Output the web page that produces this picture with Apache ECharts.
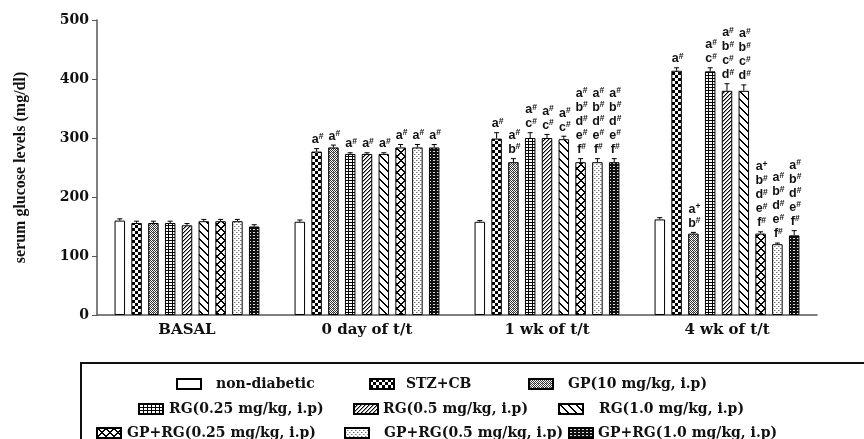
<!DOCTYPE html>
<html><head><meta charset="utf-8">
<script src="https://cdn.jsdelivr.net/npm/echarts@6/dist/echarts.min.js"></script>
<style>html,body{margin:0;padding:0;background:#fff}#c{width:864px;height:439px}</style>
</head><body><div id="c"></div>
<script>
// ---- data ----
const categories = ['BASAL', '0 day of t/t', '1 wk of t/t', '4 wk of t/t'];
const seriesNames = ['non-diabetic', 'STZ+CB', 'GP(10 mg/kg, i.p)', 'RG(0.25 mg/kg, i.p)', 'RG(0.5 mg/kg, i.p)', 'RG(1.0 mg/kg, i.p)', 'GP+RG(0.25 mg/kg, i.p)', 'GP+RG(0.5 mg/kg, i.p)', 'GP+RG(1.0 mg/kg, i.p)'];
const nonDiabetic = [160, 158, 158, 162];
const stzCb      = [156, 277, 299, 414];
const gp10       = [156, 284, 259, 138];
const rg025      = [156, 273, 300, 413];
const rg05       = [152, 273, 300, 380];
const rg10       = [159, 273, 298, 380];
const gpRg025    = [159, 284, 259, 138];
const gpRg05     = [159, 284, 259, 120];
const gpRg10     = [150, 284, 259, 135];
const errNonDiabetic = [3, 3, 2, 3];
const errStzCb   = [3, 5, 10, 5];
const errGp10    = [3, 4, 6, 2];
const errRg025   = [3, 2, 9, 6];
const errRg05    = [3, 2, 6, 12];
const errRg10    = [3, 2, 5, 10];
const errGpRg025 = [3, 5, 6, 3];
const errGpRg05  = [3, 5, 6, 2];
const errGpRg10  = [3, 5, 6, 8];
const lblNonDiabetic = ['', '', '', ''];
const lblStzCb   = ['', 'a#', 'a#', 'a#'];
const lblGp10    = ['', 'a#', 'a# b#', 'a+ b#'];
const lblRg025   = ['', 'a#', 'a# c#', 'a# c#'];
const lblRg05    = ['', 'a#', 'a# c#', 'a# b# c# d#'];
const lblRg10    = ['', 'a#', 'a# c#', 'a# b# c# d#'];
const lblGpRg025 = ['', 'a#', 'a# b# d# e# f#', 'a+ b# d# e# f#'];
const lblGpRg05  = ['', 'a#', 'a# b# d# e# f#', 'a# b# d# e# f#'];
const lblGpRg10  = ['', 'a#', 'a# b# d# e# f#', 'a# b# d# e# f#'];
const yTicks = {min: 0, max: 500, interval: 100};

const values = [nonDiabetic, stzCb, gp10, rg025, rg05, rg10, gpRg025, gpRg05, gpRg10];
const errors = [errNonDiabetic, errStzCb, errGp10, errRg025, errRg05, errRg10, errGpRg025, errGpRg05, errGpRg10];
const labels = [lblNonDiabetic, lblStzCb, lblGp10, lblRg025, lblRg05, lblRg10, lblGpRg025, lblGpRg05, lblGpRg10];

// ---- styles (patterns) ----
function pat(w, h, bg, fn) {
  const c = document.createElement('canvas'); c.width = w; c.height = h;
  const g = c.getContext('2d'); g.fillStyle = bg; g.fillRect(0, 0, w, h);
  for (let y = 0; y < h; y++) for (let x = 0; x < w; x++) { const col = fn(x, y); if (col) { g.fillStyle = col; g.fillRect(x, y, 1, 1); } }
  return {image: c, repeat: 'repeat'};
}
const K = '#000';
const patterns = [
  '#ffffff',
  pat(6, 6, '#fff', (x, y) => ((x < 3) === (y < 3)) ? K : null),
  pat(4, 4, '#fff', (x, y) => ((x + y) % 2 === 0) ? '#333' : ((x === 1 && y === 0) ? '#999' : null)),
  pat(4, 3, '#fff', (x, y) => (x === 0 || y === 0) ? K : null),
  pat(4, 4, '#fff', (x, y) => ((x + y) % 4 === 3) ? K : (((x + y) % 4 === 0) ? '#999' : null)),
  pat(8, 8, '#fff', (x, y) => (((x - y) % 8 + 8) % 8 < 2) ? K : null),
  pat(8, 8, '#fff', (x, y) => ((((x - y) % 8 + 8) % 8 < 2) || ((x + y) % 8 < 2)) ? K : null),
  pat(4, 4, '#fff', (x, y) => (x === 0 && y === 0) || (x === 2 && y === 2) ? '#777' : ((x === 1 && y === 0) || (x === 3 && y === 2) ? '#bbb' : null)),
  pat(4, 3, '#111', (x, y) => (y === 1 && (x === 1 || x === 2)) ? '#ddd' : null)
];

const BAR_W = 10.5, GAP = 0.6;
const step = BAR_W * (1 + GAP);
const serif = '"DejaVu Serif", serif';

const series = seriesNames.map((n, i) => ({
  name: n, type: 'bar', data: values[i], barWidth: BAR_W, barGap: (GAP * 100) + '%',
  itemStyle: {color: patterns[i], borderColor: '#000', borderWidth: 1},
  emphasis: {disabled: true}, z: 2
}));

const errData = [];
for (let s = 0; s < values.length; s++) for (let g = 0; g < categories.length; g++)
  errData.push([g, values[s][g], errors[s][g], s, labels[s][g]]);

function toRich(t) {
  if (!t) return '';
  return t.split(' ').map(tok => '{l|' + tok[0] + '}{s|' + tok.slice(1) + '}').join('\n');
}

series.push({
  type: 'custom', data: errData, z: 5, silent: true,
  renderItem: function (params, api) {
    const g = api.value(0), v = api.value(1), e = api.value(2), s = api.value(3);
    const lbl = errData[params.dataIndex][4];
    const x = api.coord([g, v])[0] + (s - 4) * step;
    const yb = api.coord([g, v])[1], yt = api.coord([g, v + e])[1];
    const st = {stroke: '#000', lineWidth: 1};
    const ch = [
      {type: 'line', shape: {x1: x, y1: yb, x2: x, y2: yt}, style: st},
      {type: 'line', shape: {x1: x - 2.5, y1: yt, x2: x + 2.5, y2: yt}, style: st}
    ];
    if (lbl) ch.push({type: 'text', x: x + 1, y: yt - 2, style: {
      text: toRich(lbl), align: 'center', verticalAlign: 'bottom',
      rich: {
        l: {fontFamily: 'Arial, "Liberation Sans"', fontWeight: 'bold', fontSize: 12.5, lineHeight: 14, fill: '#111'},
        s: {fontFamily: 'Arial, "Liberation Sans"', fontWeight: 'bold', fontSize: 8.5, lineHeight: 14, fill: '#111', verticalAlign: 'top'}
      }
    }});
    return {type: 'group', children: ch};
  }
});

// legend layout: [icon left x, text start x, row center y]
const legendPos = [[176, 215, 385], [369, 405, 385], [528, 567, 385],
                   [138, 168, 410], [353, 380, 410], [558, 598, 410],
                   [96, 126, 434], [344, 383, 434], [568, 595, 434]];
const legends = seriesNames.map((n, i) => ({
  data: [n], left: legendPos[i][0], top: legendPos[i][2] - 8, itemWidth: 24, itemHeight: 10,
  icon: 'rect', selectedMode: false, padding: 0, itemGap: 0,
  textStyle: {fontFamily: serif, fontWeight: 'bold', fontSize: 14, color: '#111',
    padding: [0, 0, 0, Math.max(0, legendPos[i][1] - legendPos[i][0] - 29)]}
}));

const chart = echarts.init(document.getElementById('c'));
chart.setOption({
  animation: false,
  grid: {left: 97, right: 47, top: 20, bottom: 124},
  legend: legends,
  graphic: [{type: 'rect', shape: {x: 81, y: 363, width: 800, height: 100}, style: {fill: 'none', stroke: '#111', lineWidth: 2}, silent: true}],
  xAxis: {
    type: 'category', data: categories,
    axisLine: {lineStyle: {color: '#555', width: 1.5}},
    axisTick: {alignWithLabel: true, length: 5, lineStyle: {color: '#555'}},
    axisLabel: {fontFamily: serif, fontWeight: 'bold', fontSize: 15, color: '#111', margin: 8}
  },
  yAxis: {
    type: 'value', min: yTicks.min, max: yTicks.max, interval: yTicks.interval,
    name: 'serum glucose levels (mg/dl)', nameLocation: 'middle', nameGap: 68,
    nameTextStyle: {fontFamily: '"Liberation Serif", serif', fontWeight: 'bold', fontSize: 16, color: '#111'},
    axisLine: {show: true, lineStyle: {color: '#555', width: 1.5}},
    axisTick: {show: true, length: 5, lineStyle: {color: '#555'}},
    splitLine: {show: false},
    axisLabel: {fontFamily: serif, fontWeight: 'bold', fontSize: 14, color: '#111', margin: 8}
  },
  series: series
});
</script></body></html>
